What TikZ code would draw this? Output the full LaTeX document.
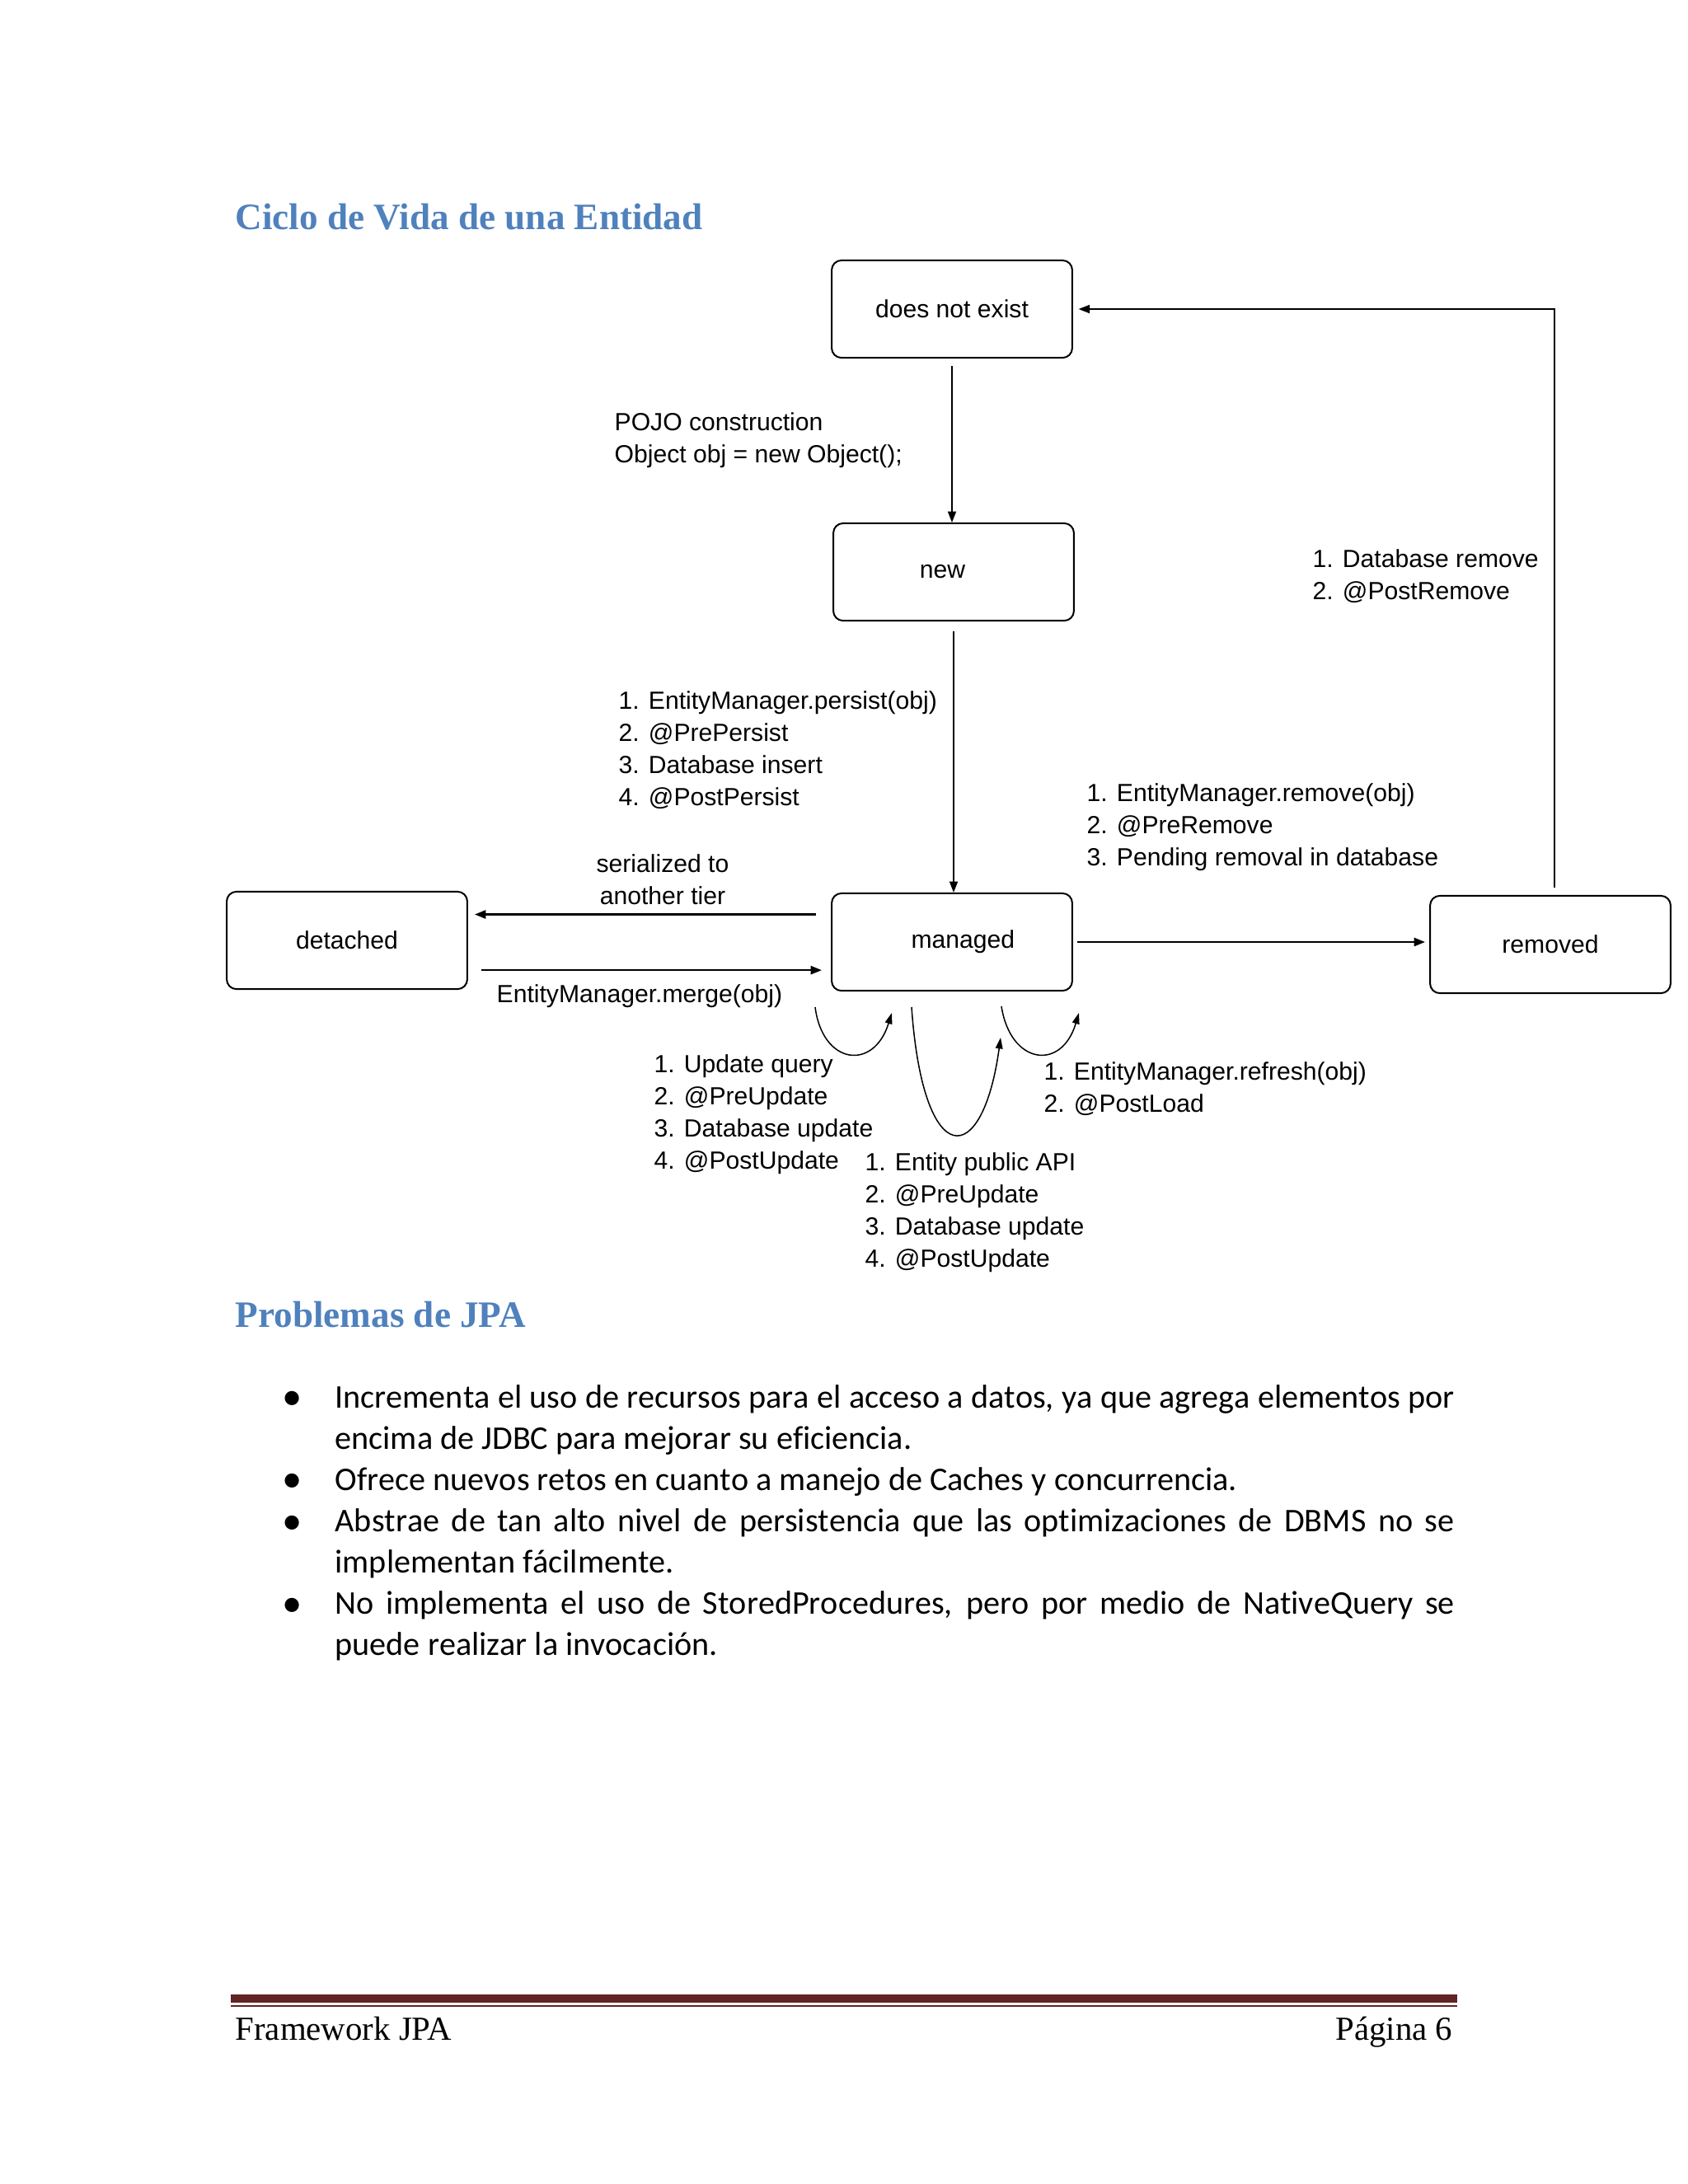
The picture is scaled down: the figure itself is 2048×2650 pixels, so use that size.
\documentclass[tikz,border=0pt]{standalone}
\usepackage{fontspec}
\usetikzlibrary{arrows.meta}
\newfontfamily\headfont{Liberation Serif}
\newfontfamily\bodyfont[Kerning=Off, Ligatures=NoCommon, WordSpace={1,1,0}]{Carlito}
\newfontfamily\diagfont{Liberation Sans}
\definecolor{headblue}{HTML}{4F81BD}
\definecolor{footred}{HTML}{622423}
\hyphenpenalty=10000
\exhyphenpenalty=10000
\tikzset{
  state/.style={draw, line width=0.6pt, rounded corners=3.5pt, minimum width=87.2pt,
    minimum height=35.3pt, inner sep=0pt, font=\diagfont\fontsize{9}{11.6}\selectfont},
  lbl/.style={inner sep=0pt, align=left, anchor=west, font=\diagfont\fontsize{9}{11.6}\selectfont},
  flow/.style={line width=0.5pt, -{Triangle[length=4pt,width=3pt]}},
  sideflow/.style={flow, line width=0.75pt},
  loopflow/.style={line width=0.45pt, -{Triangle[length=4pt,width=2.6pt]}},
  heading/.style={inner sep=0pt, anchor=base west, text=headblue,
    font=\headfont\bfseries\fontsize{13.5}{16}\selectfont},
  bodytext/.style={inner sep=0pt, anchor=base west, text width=405.8pt, align=justify,
    font=\bodyfont\fontsize{12}{15}\selectfont},
  footer/.style={inner sep=0pt, font=\headfont\fontsize{12.2}{14}\selectfont},
}
\begin{document}
\begin{tikzpicture}[x=0.2988pt, y=-0.2988pt]
\useasboundingbox (0,0) rectangle (2048,2650);

% headings
\node[heading] (title) at (285,278) {Ciclo de Vida de una Entidad};
\node[heading] (problems) at (285,1610) {Problemas de JPA};

% states
\node[state] (dne) at (1155,375) {does not exist};
\node[state] (new) at (1157,694) {new\hspace*{8pt}};
\node[state] (managed) at (1155,1143) {\hspace*{8pt}managed};
\node[state] (detached) at (421,1141) {detached};
\node[state] (removed) at (1881,1146) {removed};

% transitions
\draw[flow, shorten <=2.7pt] (dne.south) -- (dne.south |- new.north);
\draw[flow, shorten <=3.6pt] (new.south) -- (new.south |- managed.north);
\draw[sideflow, shorten <=1.5pt, shorten >=1.5pt] (managed.east) -- (managed.east -| removed.west);
\draw[flow, shorten <=2.7pt, shorten >=2pt] ([xshift=1.5pt]removed.north) |- (dne.east);
\draw[sideflow, shorten <=5.4pt, shorten >=2.4pt] ([yshift=10pt]managed.west) -- ([yshift=10pt]managed.west -| detached.east);
\draw[sideflow, shorten <=4.8pt, shorten >=3.3pt] ([yshift=-10.8pt]detached.east) -- ([yshift=-10.8pt]detached.east -| managed.west);

% self loops under managed
\coordinate (u1) at (989,1222);
\coordinate (u2) at (1082,1229);
\coordinate (p1) at (1106,1222);
\coordinate (p2) at (1214,1259);
\coordinate (r1) at (1215,1221);
\coordinate (r2) at (1309,1229);
\draw[loopflow] (u1) .. controls (998,1292) and (1060,1300) .. (u2);
\draw[loopflow] (p1) .. controls (1120,1422) and (1192,1420) .. (p2);
\draw[loopflow] (r1) .. controls (1226,1292) and (1288,1300) .. (r2);

% labels
\node[lbl] (pojo) at (745,534) {POJO construction\\Object obj = new Object();};
\node[lbl] (dbremove) at (1592,699) {1. Database remove\\2. @PostRemove};
\node[lbl] (persist) at (750,910) {1. EntityManager.persist(obj)\\2. @PrePersist\\3. Database insert\\4. @PostPersist};
\node[lbl] (remove) at (1318,1004) {1. EntityManager.remove(obj)\\2. @PreRemove\\3. Pending removal in database};
\node[lbl, align=center, anchor=center] (serial) at (804,1067) {serialized to\\another tier};
\node[lbl] (merge) at (602,1209) {EntityManager.merge(obj)};
\node[lbl] (update) at (793,1352) {1. Update query\\2. @PreUpdate\\3. Database update\\4. @PostUpdate};
\node[lbl] (publicapi) at (1049,1471) {1. Entity public API\\2. @PreUpdate\\3. Database update\\4. @PostUpdate};
\node[lbl] (refresh) at (1266,1321) {1. EntityManager.refresh(obj)\\2. @PostLoad};

% bullet list
\foreach \b/\y in {b1/1707, b2/1807, b3/1858, b4/1958}
  \node[inner sep=0pt, anchor=base, font=\bodyfont\fontsize{14.5}{15}\selectfont] (\b) at (355,\y+3) {•};
\node[bodytext] (item1) at (406,1708) {Incrementa el uso de recursos para el acceso a datos, ya que agrega elementos por encima de JDBC para mejorar su eficiencia.};
\node[bodytext] (item2) at (406,1808) {Ofrece nuevos retos en cuanto a manejo de Caches y concurrencia.};
\node[bodytext] (item3) at (406,1858) {Abstrae de tan alto nivel de persistencia que las optimizaciones de DBMS no se implementan fácilmente.};
\node[bodytext] (item4) at (406,1958) {No implementa el uso de StoredProcedures, pero por medio de NativeQuery se puede realizar la invocación.};

% footer
\draw[footred, line width=3pt] (280,2425) -- (1768,2425);
\draw[footred, line width=0.75pt] (280,2434) -- (1768,2434);
\node[footer, anchor=base west] (foot) at (285,2475) {Framework JPA};
\node[footer, anchor=base east] (page) at (1763,2475) {Página 6};
\end{tikzpicture}
\end{document}
